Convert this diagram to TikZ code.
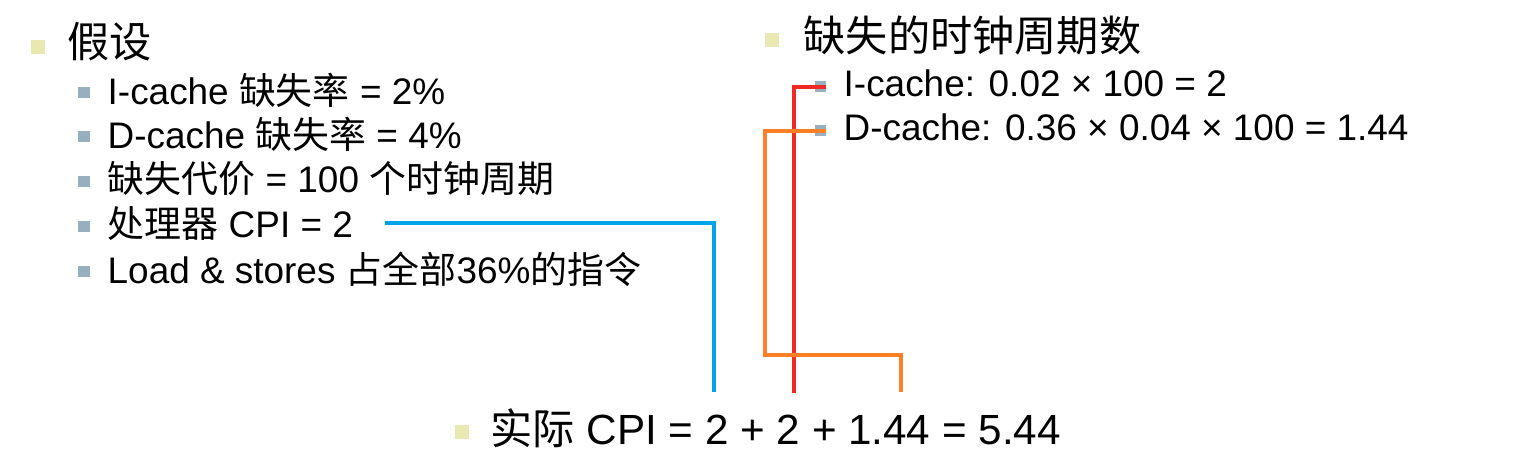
\documentclass[tikz,border=0pt]{standalone}
\usepackage{fontspec}
\setmainfont{Liberation Sans}
\newfontfamily\cjk{Noto Sans CJK SC}
\newcommand{\zh}[1]{{\cjk #1}}
\begin{document}
\begin{tikzpicture}[x=0.01cm,y=-0.01cm,
  bigtxt/.style={anchor=west,inner sep=0pt,font=\fontsize{12pt}{14pt}\selectfont},
  smtxt/.style={anchor=west,inner sep=0pt,font=\fontsize{10.5pt}{12pt}\selectfont},
  bigbul/.style={fill=bulY,minimum size=0.14cm,inner sep=0pt},
  smbul/.style={fill=bulB,minimum size=0.11cm,inner sep=0pt},
  conn/.style={line width=1.05pt}]
\definecolor{bulY}{HTML}{E8E8B0}
\definecolor{bulB}{HTML}{98AFC0}
\definecolor{cR}{HTML}{EE2A24}
\definecolor{cO}{HTML}{FF7F27}
\definecolor{cB}{HTML}{00A2E8}
\useasboundingbox (0,0) rectangle (1520,459);
\node[bigbul] (b1) at (38,47) {};
\node[bigtxt] (t1) at (67,42) {\zh{假设}};
\node[smbul] (s1) at (84,93) {};
\node[smtxt] (l1) at (107,90) {I-cache \zh{缺失率} = 2\%};
\node[smbul] (s2) at (84,137) {};
\node[smtxt] (l2) at (107,134) {D-cache \zh{缺失率} = 4\%};
\node[smbul] (s3) at (84,182) {};
\node[smtxt] (l3) at (107,179) {\zh{缺失代价} = 100 \zh{个时钟周期}};
\node[smbul] (s4) at (84,227) {};
\node[smtxt] (l4) at (107,224) {\zh{处理器} CPI = 2};
\node[smbul] (s5) at (84,272) {};
\node[smtxt] (l5) at (107,269) {Load \& stores \zh{占全部}36\%\zh{的指令}};
\node[bigbul] (b2) at (772,40) {};
\node[bigtxt] (t2) at (803,36) {\zh{缺失的时钟周期数}};
\node[smbul] (r1) at (820,87) {};
\node[smtxt] (m1) at (843,83) {I-cache: 0.02 × 100 = 2};
\node[smbul] (r2) at (820,131) {};
\node[smtxt] (m2) at (843,127) {D-cache: 0.36 × 0.04 × 100 = 1.44};
\node[bigbul] (b3) at (462,432) {};
\node[bigtxt] (t3) at (490,428) {\zh{实际} CPI = 2 + 2 + 1.44 = 5.44};
\coordinate (eB) at (714,392);
\coordinate (eR) at (794,393);
\coordinate (eO) at (901,392);
\draw[conn,cB] (385,223) -- (714,223) -- (eB);
\draw[conn,cR] (r1.east) -- (794,87) -- (eR);
\draw[conn,cO] (r2.east) -- (765,131) -- (765,355) -- (901,355) -- (eO);
\end{tikzpicture}
\end{document}
